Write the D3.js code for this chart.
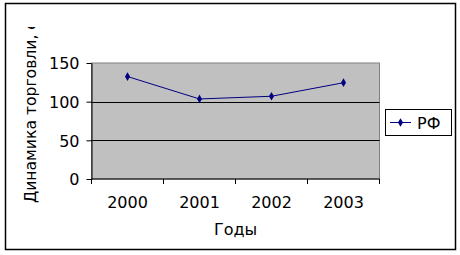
<!DOCTYPE html>
<html>
<head>
<meta charset="utf-8">
<script src="https://cdn.jsdelivr.net/npm/d3@7"></script>
<style>
  body { margin: 0; background: #fff; }
  svg text { font-family: "DejaVu Sans", Verdana, sans-serif; fill: #000; }
</style>
</head>
<body>
<svg id="chart" width="460" height="255"></svg>
<script>
const years = ["2000", "2001", "2002", "2003"];
const rfValues = [132.5, 103.5, 107, 124.5];
const yTicks = [0, 50, 100, 150];
const seriesName = "РФ";

const svg = d3.select("#chart");

// outer chart frame
svg.append("rect")
  .attr("x", 5.5).attr("y", 3.5).attr("width", 450).attr("height", 246)
  .attr("fill", "#fff").attr("stroke", "#000").attr("stroke-width", 1.5);

const plot = { left: 91.5, right: 379.5, top: 63, bottom: 179 };

const x = d3.scaleBand().domain(years).range([plot.left, plot.right]);
const y = d3.scaleLinear().domain([0, 150]).range([plot.bottom, plot.top]);

// plot area
svg.append("rect")
  .attr("x", plot.left).attr("y", plot.top)
  .attr("width", plot.right - plot.left).attr("height", plot.bottom - plot.top)
  .attr("fill", "#c0c0c0").attr("stroke", "#808080");

// gridlines
svg.append("g")
  .selectAll("line")
  .data(yTicks.filter(d => d > 0 && d < 150))
  .enter().append("line")
  .attr("x1", plot.left).attr("x2", plot.right)
  .attr("y1", d => Math.round(y(d)) + 0.5).attr("y2", d => Math.round(y(d)) + 0.5)
  .attr("stroke", "#000");

// y axis
const yAxis = svg.append("g")
  .attr("transform", `translate(${plot.left},0)`)
  .call(d3.axisLeft(y).tickValues(yTicks).tickSize(5).tickPadding(7).tickSizeOuter(0));
yAxis.select(".domain").attr("stroke", "#000");
yAxis.selectAll("text").style("font-size", "16px").attr("dy", "0.36em");

// x axis with ticks at category boundaries
const xAxis = svg.append("g")
  .attr("transform", `translate(0,${plot.bottom})`);
xAxis.append("line")
  .attr("x1", plot.left).attr("x2", plot.right).attr("y1", 0).attr("y2", 0)
  .attr("stroke", "#000");
const bounds = years.map(d => x(d)).concat([x(years[years.length - 1]) + x.bandwidth()]);
xAxis.selectAll(".tick-b")
  .data(bounds)
  .enter().append("line")
  .attr("x1", d => d).attr("x2", d => d).attr("y1", 0).attr("y2", 5)
  .attr("stroke", "#000");
xAxis.selectAll(".lbl")
  .data(years)
  .enter().append("text")
  .attr("x", d => x(d) + x.bandwidth() / 2)
  .attr("y", 29)
  .attr("text-anchor", "middle")
  .style("font-size", "16px")
  .text(d => d);

// line series
const pts = years.map((d, i) => [x(d) + x.bandwidth() / 2, y(rfValues[i])]);
svg.append("path")
  .datum(pts)
  .attr("d", d3.line())
  .attr("fill", "none").attr("stroke", "#000080").attr("stroke-width", 1);
svg.append("g")
  .selectAll("path")
  .data(pts)
  .enter().append("path")
  .attr("transform", d => `translate(${d[0]},${d[1]})`)
  .attr("d", d3.symbol(d3.symbolDiamond, 22)())
  .attr("fill", "#000080");

// axis titles
svg.append("text")
  .attr("x", 235.5).attr("y", 235)
  .attr("text-anchor", "middle")
  .style("font-size", "16px")
  .text("Годы");

svg.append("defs").append("clipPath").attr("id", "yclip")
  .append("rect").attr("x", 0).attr("y", 27).attr("width", 60).attr("height", 200);
svg.append("g")
  .attr("clip-path", "url(#yclip)")
  .append("text")
  .attr("transform", "translate(36,203) rotate(-90)")
  .style("font-size", "15.6px")
  .text("Динамика торговли, ед");

// legend
const lg = svg.append("g");
lg.append("rect")
  .attr("x", 385.5).attr("y", 109.5).attr("width", 66).attr("height", 26)
  .attr("fill", "#fff").attr("stroke", "#000");
lg.append("line")
  .attr("x1", 390).attr("x2", 411).attr("y1", 122.5).attr("y2", 122.5)
  .attr("stroke", "#000080");
lg.append("path")
  .attr("transform", "translate(400.5,122.5)")
  .attr("d", d3.symbol(d3.symbolDiamond, 22)())
  .attr("fill", "#000080");
lg.append("text")
  .attr("x", 417).attr("y", 128.5)
  .style("font-size", "16px")
  .text(seriesName);
</script>
</body>
</html>
